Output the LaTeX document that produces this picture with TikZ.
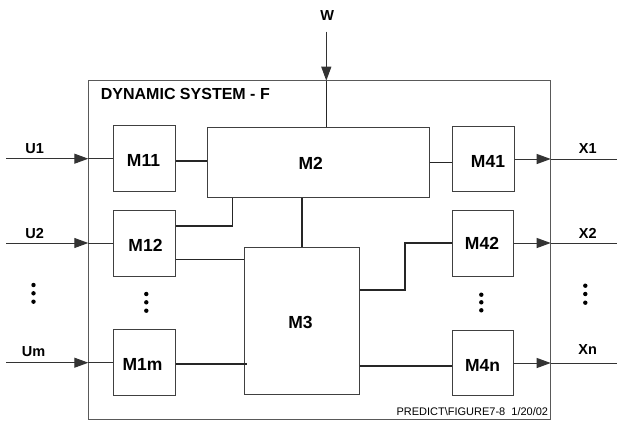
\documentclass[tikz,border=0pt]{standalone}
\usepackage{fontspec}
\setmainfont{Liberation Sans}
\usetikzlibrary{arrows.meta}
\tikzset{
  frame/.style={draw=black!65, line width=1pt},
  modbox/.style={draw=black!75, line width=1pt, inner sep=0pt, font=\fontsize{17.5}{20}\selectfont\bfseries},
  lab/.style={inner sep=0pt, font=\fontsize{14.5}{17}\selectfont\bfseries},
  wire/.style={draw=black!85, line width=1.6pt},
  thinwire/.style={draw=black!80, line width=1pt},
  inarrow/.style={draw=black!80, line width=1pt, -{Triangle[length=14pt,width=10pt]}},
  dotc/.style={fill=black}
}
\begin{document}
\begin{tikzpicture}[x=1pt,y=-1pt]
\useasboundingbox (0,0) rectangle (617,421);
% outer frame
\draw[frame] (88.3,80.7) rectangle (550.7,419);
\node[anchor=west, inner sep=0pt, font=\fontsize{16}{19}\selectfont\bfseries] (title) at (100.7,94.3) {DYNAMIC SYSTEM - F};
\node[anchor=east, inner sep=0pt, font=\fontsize{11}{13}\selectfont] (foot) at (548.3,412) {PREDICT\textbackslash FIGURE7-8\ \ 1/20/02};
% modules
\node[modbox, minimum width=62pt, minimum height=66pt] (M11) at (144.5,158.6) {};
\node[modbox, minimum width=62pt, minimum height=66pt] (M12) at (144.7,243.3) {};
\node[modbox, minimum width=62pt, minimum height=65.7pt] (M1m) at (144.7,362.2) {};
\node[modbox, minimum width=221.3pt, minimum height=69.6pt] (M2) at (318.35,162.5) {};
\node[modbox, minimum width=115.4pt, minimum height=147pt] (M3) at (302,320.8) {};
\node[modbox, minimum width=61.6pt, minimum height=65.7pt] (M41) at (483.5,158.85) {};
\node[modbox, minimum width=61pt, minimum height=66pt] (M42) at (482.8,243.3) {};
\node[modbox, minimum width=61pt, minimum height=65.7pt] (M4n) at (482.8,362.85) {};
% module labels
\node[modbox, draw=none] (tM11) at (143.5,160.5) {M11};
\node[modbox, draw=none] (tM12) at (145.5,245) {M12};
\node[modbox, draw=none] (tM1m) at (142.5,364) {M1m};
\node[modbox, draw=none] (tM2) at (310.7,163.3) {M2};
\node[modbox, draw=none] (tM3) at (300.5,322.7) {M3};
\node[modbox, draw=none] (tM41) at (488,161) {M41};
\node[modbox, draw=none] (tM42) at (482,243.5) {M42};
\node[modbox, draw=none] (tM4n) at (482.5,365) {M4n};
% external labels
\node[lab] (W) at (327.3,15.7) {W};
\node[lab] (U1) at (34.7,148.3) {U1};
\node[lab] (U2) at (34.7,233.3) {U2};
\node[lab] (Um) at (33.5,351.7) {Um};
\node[lab] (X1) at (587.7,148.3) {X1};
\node[lab] (X2) at (587.7,233.3) {X2};
\node[lab] (Xn) at (587.7,350) {Xn};
% coordinates
\coordinate (ws) at (326.3,31.7);
\coordinate (wb) at (326.3,80.7);
\coordinate (u1s) at (6,158.7);
\coordinate (u1b) at (88.3,158.7);
\coordinate (u2s) at (6,243);
\coordinate (u2b) at (88.3,243);
\coordinate (ums) at (6,362.7);
\coordinate (umb) at (88.3,362.7);
\coordinate (x1b) at (550.7,159);
\coordinate (x1e) at (617,159);
\coordinate (x2b) at (550.7,243);
\coordinate (x2e) at (617,243);
\coordinate (xnb) at (550.7,363);
\coordinate (xne) at (617,363);
% inputs
\draw[inarrow] (ws) -- (wb);
\draw[wire] (wb) -- (M2.north -| wb);
\draw[inarrow] (u1s) -- (u1b);
\draw[thinwire] (u1b) -- (M11.west |- u1b);
\draw[inarrow] (u2s) -- (u2b);
\draw[thinwire] (u2b) -- (M12.west |- u2b);
\draw[inarrow] (ums) -- (umb);
\draw[thinwire] (umb) -- (M1m.west |- umb);
% outputs
\draw[inarrow] (M41.east |- x1b) -- (x1b);
\draw[thinwire] (x1b) -- (x1e);
\draw[inarrow] (M42.east |- x2b) -- (x2b);
\draw[thinwire] (x2b) -- (x2e);
\draw[inarrow] (M4n.east |- xnb) -- (xnb);
\draw[thinwire] (xnb) -- (xne);
% internal connectors
\draw[wire] (M11.east |- 0,161) -- (M2.west |- 0,161);
\draw[wire] (M2.east |- 0,162.3) -- (M41.west |- 0,162.3);
\draw[wire] (M12.east |- 0,226) -- (232.5,226) -- (232.5,0 |- M2.south);
\draw[wire, line width=1.4pt] (M12.east |- 0,259.3) -- (M3.west |- 0,259.3);
\draw[wire] (302,0 |- M2.south) -- (M3.north);
\draw[wire] (M1m.east |- 0,364) -- (246.7,364);
\draw[wire] (M3.east |- 0,290) -- (404.7,290) -- (404.7,242.7) -- (M42.west |- 0,242.7);
\draw[wire] (M3.east |- 0,365.7) -- (M4n.west |- 0,365.7);
% dots
\foreach \y in {285,293.3,301.7} \fill[dotc] (33.5,\y) circle (2.2pt);
\foreach \y in {285.7,294,302.7} \fill[dotc] (585.3,\y) circle (2.2pt);
\foreach \y in {294,302.3,310.7} \fill[dotc] (146.3,\y) circle (2.2pt);
\foreach \y in {294.7,302.3,310.3} \fill[dotc] (481.3,\y) circle (2.2pt);
\end{tikzpicture}
\end{document}
